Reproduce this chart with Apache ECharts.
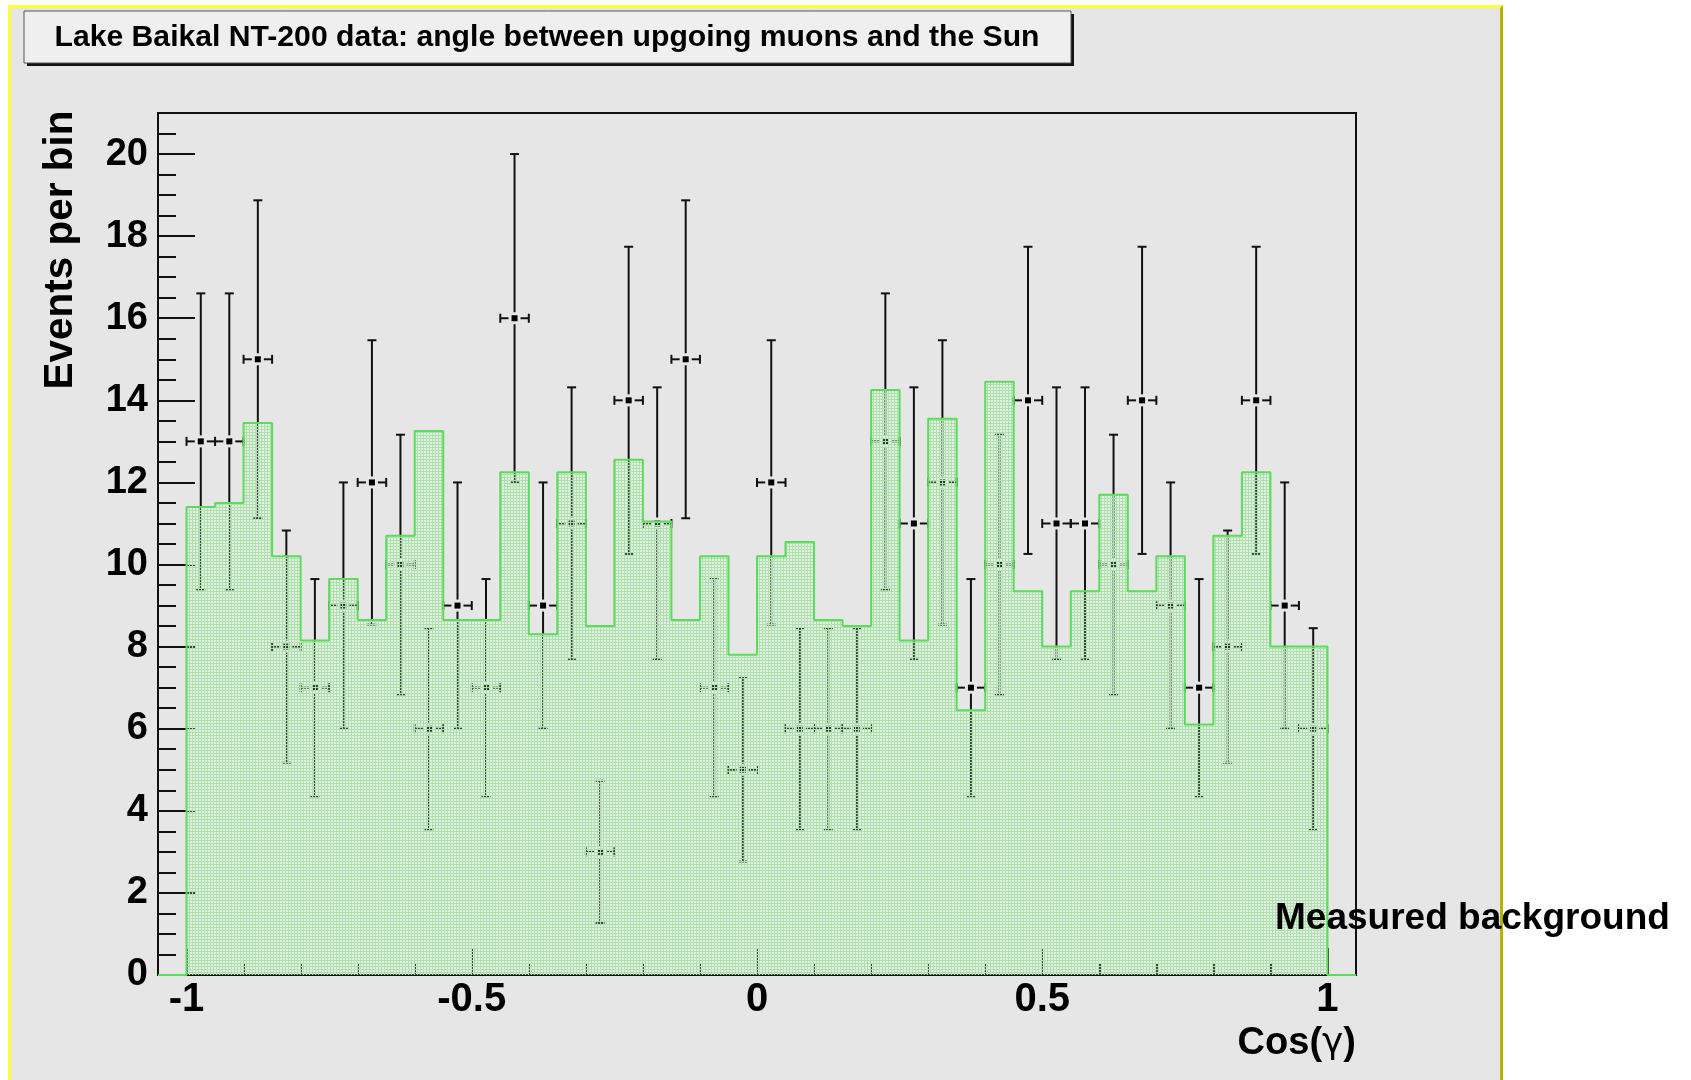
<!DOCTYPE html>
<html><head><meta charset="utf-8">
<script src="https://cdn.jsdelivr.net/npm/echarts@6/dist/echarts.min.js"></script>
<style>
html,body{margin:0;padding:0;background:#fff;width:1691px;height:1080px;overflow:hidden}
#panel{position:absolute;left:8px;top:5px;width:1495px;height:1100px;background:#e6e6e6;border-left:3px solid #ffff33;border-top:3px solid #ffff33;border-right:3px solid #b5b500;box-sizing:border-box}
#chart{position:absolute;left:0;top:0;width:1691px;height:1080px}
</style></head><body>
<div id="panel"></div><div id="chart"></div>
<script>
// ---- data ----
const chartTitle = 'Lake Baikal NT-200 data: angle between upgoing muons and the Sun';
const yAxisTitle = 'Events per bin';
const xAxisTitleMain = 'Cos(';
const xAxisTitleGreek = 'γ';
const xAxisTitleEnd = ')';
const legendText = 'Measured background';
const xMin = -1.05, xMax = 1.05, yMin = 0, yMax = 21;
const binEdges = [-1,-0.95,-0.9,-0.85,-0.8,-0.75,-0.7,-0.65,-0.6,-0.55,-0.5,-0.45,-0.4,-0.35,-0.3,-0.25,-0.2,-0.15,-0.1,-0.05,0,
  0.05,0.1,0.15,0.2,0.25,0.3,0.35,0.4,0.45,0.5,0.55,0.6,0.65,0.7,0.75,0.8,0.85,0.9,0.95,1];
const counts = [13,13,15,8,7,9,12,10,6,9, 7,16,9,11,3,14,11,15,7,5, 12,6,6,6,13,11,12,7,10,14, 11,11,10,14,9,7,8,14,9,6];
const background = [11.4,11.5,13.45,10.2,8.15,9.65,8.65,10.7,13.25,8.65, 8.65,12.25,8.3,12.25,8.5,12.55,11.05,8.65,10.2,7.8,
  10.2,10.55,8.65,8.5,14.25,8.15,13.55,6.45,14.45,9.35, 8.0,9.35,11.7,9.35,10.2,6.1,10.7,12.25,8.0,8.0];
const xMajorTicks = [-1,-0.5,0,0.5,1];
const xMinorTicks = [-0.9,-0.8,-0.7,-0.6,-0.4,-0.3,-0.2,-0.1,0.1,0.2,0.3,0.4,0.6,0.7,0.8,0.9];
const yMajorTicks = [0,2,4,6,8,10,12,14,16,18,20];
const yMinorTicks = [0.5,1,1.5,2.5,3,3.5,4.5,5,5.5,6.5,7,7.5,8.5,9,9.5,10.5,11,11.5,12.5,13,13.5,14.5,15,15.5,16.5,17,17.5,18.5,19,19.5,20.5];

// ---- derived ----
const histData = [[xMin, 0]];
for (let i = 0; i < background.length; i++) histData.push([binEdges[i], background[i]]);
histData.push([binEdges[binEdges.length-1], 0]);
histData.push([xMax, 0]);
const pointData = counts.map((v, i) => [(binEdges[i] + binEdges[i+1]) / 2, v, Math.sqrt(v), binEdges[i], binEdges[i+1]]);

// fill pattern (ROOT stipple)
const pat = document.createElement('canvas'); pat.width = 3; pat.height = 3;
const pc = pat.getContext('2d');
pc.fillStyle = 'rgba(250,255,250,0.2)'; pc.fillRect(0,0,3,3);
pc.fillStyle = '#a8e3a8'; pc.fillRect(0,0,3,1); pc.fillRect(0,0,1,3);

function measure(text, weight, family, size) {
  const c = document.createElement('canvas').getContext('2d');
  c.font = weight + ' ' + size + 'px ' + family;
  return c.measureText(text).width;
}
const FAM = '"Liberation Sans", Arial, sans-serif';
const titleSize = 30;
const titleScale = 985 / measure(chartTitle, 'bold', FAM, titleSize);
const yNameSize = 40 * 279 / measure(yAxisTitle, 'bold', FAM, 40);
const legSize = 38 * 395 / measure(legendText, 'bold', FAM, 38);

const G = {left:158, top:113, width:1198, height:862};
const INK = '#111';

const chart = echarts.init(document.getElementById('chart'), null, {renderer:'canvas'});
chart.setOption({
  backgroundColor: 'transparent',
  animation: false,
  grid: {left:G.left, top:G.top, width:G.width, height:G.height, show:true, borderColor:INK, borderWidth:2, backgroundColor:'transparent', containLabel:false},
  xAxis: [
    {type:'value', min:xMin, max:xMax, position:'bottom',
     axisLine:{show:true, onZero:false, lineStyle:{color:INK, width:2}}, splitLine:{show:false},
     axisTick:{show:true, inside:true, length:27, customValues:xMajorTicks, lineStyle:{color:INK, width:2}},
     axisLabel:{show:true, customValues:xMajorTicks, margin:5, color:'#000', fontFamily:FAM, fontWeight:'bold', fontSize:40}},
    {type:'value', min:xMin, max:xMax, position:'bottom',
     axisLine:{show:false, onZero:false}, splitLine:{show:false},
     axisTick:{show:true, inside:true, length:12, customValues:xMinorTicks, lineStyle:{color:INK, width:2}},
     axisLabel:{show:false}}
  ],
  yAxis: [
    {type:'value', min:yMin, max:yMax, position:'left',
     axisLine:{show:true, onZero:false, lineStyle:{color:INK, width:2}}, splitLine:{show:false},
     axisTick:{show:true, inside:true, length:37, customValues:yMajorTicks, lineStyle:{color:INK, width:2}},
     axisLabel:{show:true, customValues:yMajorTicks, margin:10, color:'#000', fontFamily:FAM, fontWeight:'bold', fontSize:38}},
    {type:'value', min:yMin, max:yMax, position:'left',
     axisLine:{show:false, onZero:false}, splitLine:{show:false},
     axisTick:{show:true, inside:true, length:18, customValues:yMinorTicks, lineStyle:{color:INK, width:2}},
     axisLabel:{show:false}}
  ],
  series: [
    {type:'custom', xAxisIndex:0, yAxisIndex:0, z:1, data:pointData, clip:true,
     renderItem(params, api) {
       const xc = api.value(0), v = api.value(1), e = api.value(2), lo = api.value(3), hi = api.value(4);
       const c = api.coord([xc, v]), l = api.coord([lo, v]), h = api.coord([hi, v]);
       const t = api.coord([xc, v + e]), b = api.coord([xc, v - e]);
       const m = 3, g = 3, cap = 4.5;
       const st = {stroke:INK, lineWidth:2};
       const ln = (x1,y1,x2,y2) => ({type:'line', shape:{x1,y1,x2,y2}, style:st});
       return {type:'group', children:[
         ln(l[0], c[1], c[0]-m-g, c[1]),
         ln(c[0]+m+g, c[1], h[0], c[1]),
         ln(c[0], c[1]-m-g, t[0], t[1]),
         ln(c[0], c[1]+m+g, b[0], b[1]),
         ln(t[0]-cap, t[1], t[0]+cap, t[1]),
         ln(b[0]-cap, b[1], b[0]+cap, b[1]),
         ln(l[0], l[1]-cap, l[0], l[1]+cap),
         ln(h[0], h[1]-cap, h[0], h[1]+cap),
         {type:'rect', shape:{x:c[0]-m, y:c[1]-m, width:2*m, height:2*m}, style:{fill:'#000'}}
       ]};
     }},
    {type:'line', xAxisIndex:0, yAxisIndex:0, z:3, data:histData, step:'end', symbol:'none', showSymbol:false,
     lineStyle:{color:'#5cdc5c', width:2}, areaStyle:{color:{image:pat, repeat:'repeat'}, opacity:1, origin:'start'}}
  ],
  graphic: [
    {type:'rect', z:10, shape:{x:27, y:14, width:1047, height:52}, style:{fill:'#111'}},
    {type:'rect', z:11, shape:{x:24, y:11, width:1047, height:52}, style:{fill:'#efefef', stroke:'#555', lineWidth:1}},
    {type:'text', z:12, x:547, y:38, scaleX:titleScale, style:{text:chartTitle, fill:'#000', fontFamily:FAM, fontWeight:'bold', fontSize:titleSize, align:'center', verticalAlign:'middle'}},
    {type:'text', z:12, x:61, y:250, rotation:Math.PI/2, style:{text:yAxisTitle, fill:'#000', fontFamily:FAM, fontWeight:'bold', fontSize:yNameSize, align:'center', verticalAlign:'middle'}},
    {type:'text', z:12, x:1356, y:1044, style:{text:'{a|' + xAxisTitleMain + '}{g|' + xAxisTitleGreek + '}{a|' + xAxisTitleEnd + '}', align:'right', verticalAlign:'middle',
      rich:{a:{fontFamily:FAM, fontWeight:'bold', fontSize:38, fill:'#000'}, g:{fontFamily:'"DejaVu Sans", sans-serif', fontWeight:'normal', fontSize:36, fill:'#000'}}}},
    {type:'text', z:20, x:1275, y:919, style:{text:legendText, fill:'#000', fontFamily:FAM, fontWeight:'bold', fontSize:legSize, align:'left', verticalAlign:'middle',
      textShadowColor:'#a0a0a0', textShadowOffsetX:3, textShadowOffsetY:3, textShadowBlur:0}}
  ]
});
</script></body></html>
